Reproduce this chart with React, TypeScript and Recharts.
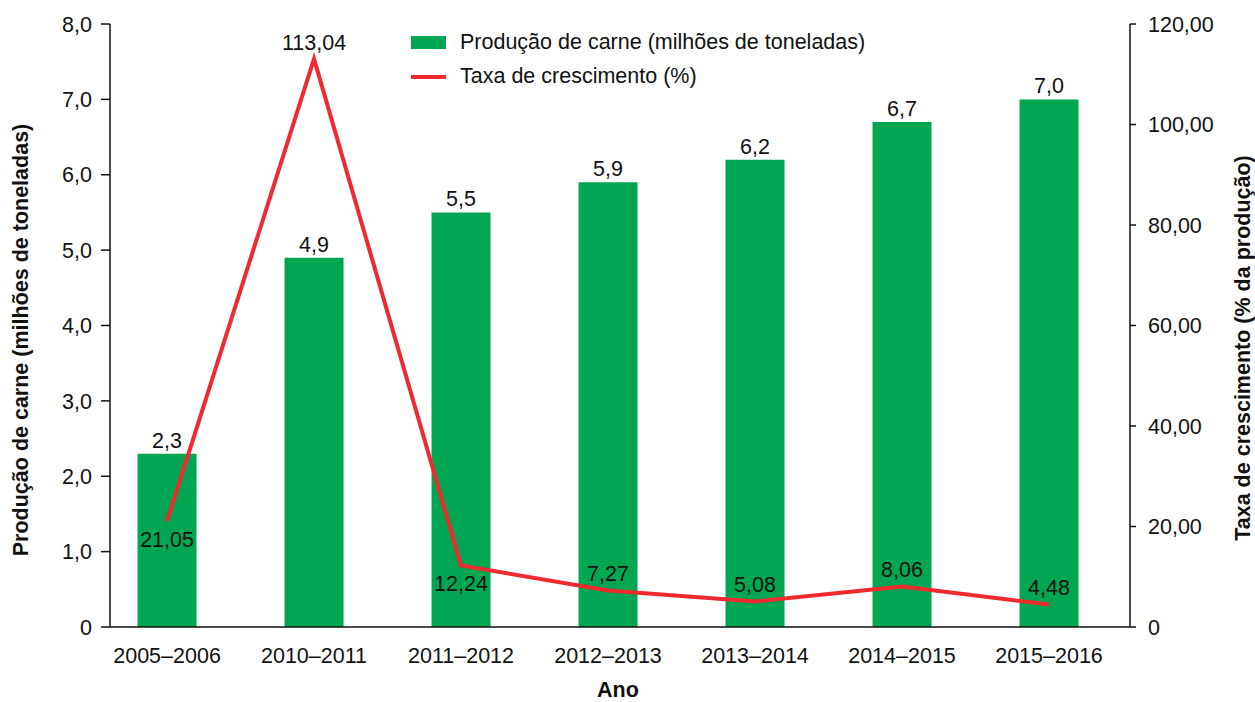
import React from 'react';
import { ComposedChart, Bar, Line, XAxis, YAxis, LabelList, Label } from 'recharts';

const categories = ['2005–2006', '2010–2011', '2011–2012', '2012–2013', '2013–2014', '2014–2015', '2015–2016'];
const producao = [2.3, 4.9, 5.5, 5.9, 6.2, 6.7, 7.0];
const taxa = [21.05, 113.04, 12.24, 7.27, 5.08, 8.06, 4.48];
const leftTicks = [0, 1, 2, 3, 4, 5, 6, 7, 8];
const rightTicks = [0, 20, 40, 60, 80, 100, 120];
const labelsBelow = [0, 2];

const data = categories.map((c, i) => ({ i, cat: c, producao: producao[i], taxa: taxa[i] }));

const FONT = '"Liberation Sans", Arial, Helvetica, sans-serif';
const GREEN = '#00a651';
const RED = '#ee2a2f';
const FS = 21.5;

const fmt1 = (v: number) => (v === 0 ? '0' : v.toFixed(1).replace('.', ','));
const fmt2 = (v: number) => (v === 0 ? '0' : v.toFixed(2).replace('.', ','));

const LineLabel = (props: any) => {
  const { x, y, value, index } = props;
  const below = labelsBelow.includes(index);
  return (
    <text x={x} y={below ? y + 26 : y - 9} textAnchor="middle" fontSize={FS} fontFamily={FONT} fill="#111">
      {fmt2(value)}
    </text>
  );
};

const LeftTitle = (props: any) => {
  const vb = props.viewBox || {};
  const cx = vb.x + 21;
  const cy = 340;
  return (
    <text x={cx} y={cy} transform={`rotate(-90, ${cx}, ${cy})`} textAnchor="middle" dominantBaseline="central"
      fontSize={FS} fontWeight="bold" fontFamily={FONT} fill="#111">
      Produção de carne (milhões de toneladas)
    </text>
  );
};

const RightTitle = (props: any) => {
  const vb = props.viewBox || {};
  const cx = vb.x + 113;
  const cy = 348;
  return (
    <text x={cx} y={cy} transform={`rotate(-90, ${cx}, ${cy})`} textAnchor="middle" dominantBaseline="central"
      fontSize={FS} fontWeight="bold" fontFamily={FONT} fill="#111">
      Taxa de crescimento (% da produção)
    </text>
  );
};

const BottomTitle = (props: any) => {
  const vb = props.viewBox || {};
  return (
    <text x={vb.x + vb.width / 2 - 2} y={vb.y + 70} textAnchor="middle" fontSize={FS} fontWeight="bold" fontFamily={FONT} fill="#111">
      Ano
    </text>
  );
};

export default function App() {
  return (
    <div style={{ position: 'absolute', left: 0, top: 0, width: 1255, height: 702, background: '#fff', fontFamily: FONT }}>
      <ComposedChart width={1255} height={702} data={data} margin={{ top: 24, right: 0, bottom: 0, left: 0 }}>
        <XAxis
          dataKey="i"
          type="number"
          domain={[-0.388, 6.551]}
          ticks={[0, 1, 2, 3, 4, 5, 6]}
          tickFormatter={(v: number) => categories[v]}
          interval={0}
          height={75}
          tickLine={false}
          tickMargin={15}
          axisLine={{ stroke: '#111', strokeWidth: 1.5 }}
          tick={{ fontSize: FS, fontFamily: FONT, fill: '#111' }}
        >
          <Label content={BottomTitle} />
        </XAxis>
        <YAxis
          yAxisId="left"
          width={110}
          domain={[0, 8]}
          ticks={leftTicks}
          tickFormatter={fmt1}
          tickSize={9}
          tickMargin={9}
          axisLine={{ stroke: '#111', strokeWidth: 1.5 }}
          tickLine={{ stroke: '#111', strokeWidth: 1.5 }}
          tick={{ fontSize: FS, fontFamily: FONT, fill: '#111' }}
        >
          <Label content={LeftTitle} />
        </YAxis>
        <YAxis
          yAxisId="right"
          orientation="right"
          width={125}
          domain={[0, 120]}
          ticks={rightTicks}
          tickFormatter={fmt2}
          tickSize={6}
          tickMargin={12}
          axisLine={{ stroke: '#111', strokeWidth: 1.5 }}
          tickLine={{ stroke: '#111', strokeWidth: 1.5 }}
          tick={{ fontSize: FS, fontFamily: FONT, fill: '#111' }}
        >
          <Label content={RightTitle} />
        </YAxis>
        <Bar yAxisId="left" dataKey="producao" fill={GREEN} barSize={59} isAnimationActive={false}>
          <LabelList dataKey="producao" position="top" offset={6} formatter={(v: any) => fmt1(Number(v))}
            style={{ fontSize: FS, fontFamily: FONT, fill: '#111' }} />
        </Bar>
        <Line yAxisId="right" dataKey="taxa" type="linear" stroke={RED} strokeWidth={4} dot={false}
          activeDot={false} isAnimationActive={false}>
          <LabelList dataKey="taxa" content={LineLabel} />
        </Line>
      </ComposedChart>
      <div style={{ position: 'absolute', left: 411, top: 25.5, fontFamily: FONT, fontSize: FS, color: '#111' }}>
        <div style={{ display: 'flex', alignItems: 'center', height: 34 }}>
          <div style={{ width: 35, height: 13, background: GREEN, marginRight: 14 }} />
          <span>Produção de carne (milhões de toneladas)</span>
        </div>
        <div style={{ display: 'flex', alignItems: 'center', height: 34 }}>
          <div style={{ width: 35, height: 4, background: RED, marginRight: 14 }} />
          <span>Taxa de crescimento (%)</span>
        </div>
      </div>
    </div>
  );
}
